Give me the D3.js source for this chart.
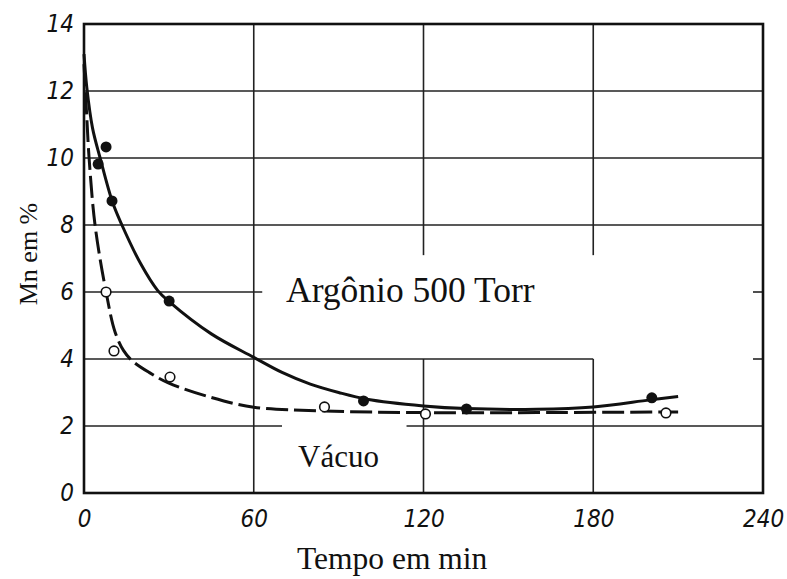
<!DOCTYPE html>
<html>
<head>
<meta charset="utf-8">
<script src="https://cdn.jsdelivr.net/npm/d3@7"></script>
<style>
  body { margin: 0; background: #fff; }
  .tick-lbl { font-family: "Liberation Sans Narrow", "DejaVu Sans Condensed", sans-serif; font-style: italic; font-size: 24px; fill: #111; }
  .serif { font-family: "Liberation Serif", "DejaVu Serif", serif; fill: #111; }
</style>
</head>
<body>
<div id="chart"></div>
<script>
// ticks
const xTicks = [0, 60, 120, 180, 240];
const yTicks = [0, 2, 4, 6, 8, 10, 12, 14];

// measured points (min, Mn %)
const argonPts = [[5, 9.82], [7.8, 10.33], [9.9, 8.72], [30.1, 5.73], [98.8, 2.75], [135.2, 2.51], [200.7, 2.84]];
const vacuoPts = [[7.8, 6.0], [10.6, 4.24], [30.4, 3.46], [85, 2.57], [120.7, 2.36], [205.7, 2.39]];

// fitted curves as drawn in the figure
const argonCurve = [[0, 13.1], [1, 12.1], [3, 10.9], [5.7, 10.0], [10, 8.7], [13.4, 8.0], [20, 6.85], [26, 6.05], [30, 5.72],
  [45, 4.75], [60, 4.05], [70, 3.6], [80, 3.25], [90, 3.0], [100, 2.8], [120, 2.6], [135, 2.52], [160, 2.5], [180, 2.57], [200, 2.78], [210, 2.88]];
const vacuoCurve = [[0, 12.8], [1, 11.2], [1.8, 10.0], [3.9, 8.0], [7.8, 6.0], [11, 4.8], [14, 4.25], [17, 3.95], [23, 3.6],
  [30, 3.28], [45, 2.85], [60, 2.56], [85, 2.45], [120, 2.4], [160, 2.4], [210, 2.42]];

// grid segments: [value, from, to]
const hGrid = [[12, 0, 240], [10, 0, 240], [8, 0, 240], [6, 0, 63], [4, 0, 180], [2, 0, 70], [2, 114, 240]];
const vGrid = [[60, 0, 14], [120, 0, 4.0], [120, 7.1, 14], [180, 0, 4.0], [180, 7.1, 14]];
const rightTicks = [6, 4];

const width = 787, height = 579;
const x = d3.scaleLinear([0, 240], [84, 763]);
const y = d3.scaleLinear([0, 14], [493, 24]);

const svg = d3.select("#chart").append("svg")
  .attr("width", width)
  .attr("height", height)
  .attr("viewBox", [0, 0, width, height]);

// grid
const grid = svg.append("g").attr("stroke", "#222").attr("stroke-width", 1.6);
grid.selectAll("line.h").data(hGrid).join("line")
  .attr("class", "h")
  .attr("x1", d => x(d[1])).attr("x2", d => x(d[2]))
  .attr("y1", d => y(d[0])).attr("y2", d => y(d[0]));
grid.selectAll("line.v").data(vGrid).join("line")
  .attr("class", "v")
  .attr("x1", d => x(d[0])).attr("x2", d => x(d[0]))
  .attr("y1", d => y(d[1])).attr("y2", d => y(d[2]));
grid.selectAll("line.rt").data(rightTicks).join("line")
  .attr("class", "rt")
  .attr("x1", x(240) - 10).attr("x2", x(240))
  .attr("y1", d => y(d)).attr("y2", d => y(d));

// frame
svg.append("rect")
  .attr("x", x(0)).attr("y", y(14))
  .attr("width", x(240) - x(0)).attr("height", y(0) - y(14))
  .attr("fill", "none").attr("stroke", "#111").attr("stroke-width", 2.6);

// axes (labels only)
svg.append("g")
  .attr("transform", `translate(0,${y(0)})`)
  .call(d3.axisBottom(x).tickValues(xTicks).tickSize(0).tickPadding(17))
  .call(g => g.select(".domain").remove())
  .selectAll("text").attr("class", "tick-lbl").attr("fill", null);

svg.append("g")
  .attr("transform", `translate(${x(0)},0)`)
  .call(d3.axisLeft(y).tickValues(yTicks).tickSize(0).tickPadding(10))
  .call(g => g.select(".domain").remove())
  .selectAll("text").attr("class", "tick-lbl").attr("fill", null);

// curves
const line = d3.line().x(d => x(d[0])).y(d => y(d[1])).curve(d3.curveCatmullRom.alpha(0.5));

svg.append("path")
  .datum(vacuoCurve)
  .attr("d", line)
  .attr("fill", "none").attr("stroke", "#111").attr("stroke-width", 3)
  .attr("stroke-dasharray", "22,6");

svg.append("path")
  .datum(argonCurve)
  .attr("d", line)
  .attr("fill", "none").attr("stroke", "#111").attr("stroke-width", 3);

// points
svg.append("g").selectAll("circle").data(argonPts).join("circle")
  .attr("cx", d => x(d[0])).attr("cy", d => y(d[1])).attr("r", 5.5)
  .attr("fill", "#111");

svg.append("g").selectAll("circle").data(vacuoPts).join("circle")
  .attr("cx", d => x(d[0])).attr("cy", d => y(d[1])).attr("r", 4.8)
  .attr("fill", "#fff").attr("stroke", "#111").attr("stroke-width", 1.6);

// labels
svg.append("text").attr("class", "serif")
  .attr("x", 286).attr("y", 302)
  .style("font-size", "35.5px")
  .text("Argônio 500 Torr");

svg.append("text").attr("class", "serif")
  .attr("x", 298).attr("y", 467)
  .style("font-size", "31px")
  .text("Vácuo");

svg.append("text").attr("class", "serif")
  .attr("x", 297).attr("y", 569)
  .style("font-size", "31.5px")
  .text("Tempo em min");

svg.append("text").attr("class", "serif")
  .attr("transform", "translate(37,254) rotate(-90)")
  .attr("text-anchor", "middle")
  .style("font-size", "26px")
  .text("Mn em %");
</script>
</body>
</html>
